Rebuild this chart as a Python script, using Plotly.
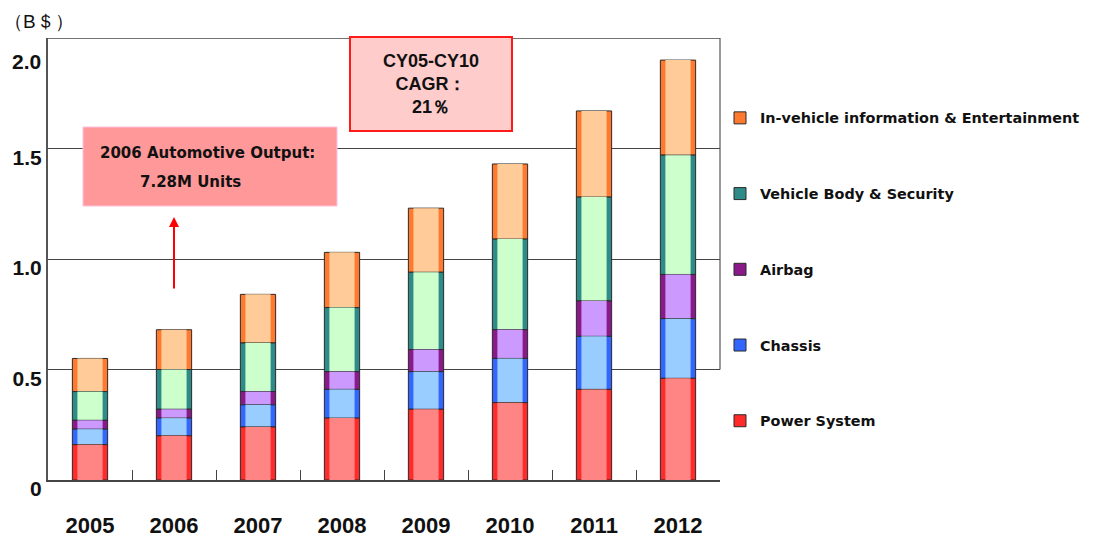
import numpy as np
import plotly.graph_objects as go

# Automotive electronics market, billions of USD
years = ["2005", "2006", "2007", "2008", "2009", "2010", "2011", "2012"]
power_system = [0.16, 0.20, 0.24, 0.28, 0.32, 0.35, 0.41, 0.46]
chassis = [0.07, 0.08, 0.10, 0.13, 0.17, 0.20, 0.24, 0.27]
airbag = [0.04, 0.04, 0.06, 0.08, 0.10, 0.13, 0.16, 0.20]
body_security = [0.13, 0.18, 0.22, 0.29, 0.35, 0.41, 0.47, 0.54]
infotainment = [0.15, 0.18, 0.22, 0.25, 0.29, 0.34, 0.39, 0.43]
totals = [0.55, 0.68, 0.84, 1.03, 1.23, 1.43, 1.67, 1.90]
y_ticks = [0, 0.5, 1.0, 1.5]
y_ticktext = ["0", "0.5", "1.0", "1.5"]
y_top = 2.0

ARIAL = "Arial, Liberation Sans, sans-serif"
TAHOMA = "DejaVu Sans, Verdana, sans-serif"

# bottom -> top of the stack: (name, values, edge colour, light colour)
series = [
    ("Power System", power_system, "#ff2a2a", "#ff8585"),
    ("Chassis", chassis, "#3366ff", "#99ccff"),
    ("Airbag", airbag, "#8a1a8a", "#cc99ff"),
    ("Vehicle Body & Security", body_security, "#2e8b87", "#ccffcc"),
    ("In-vehicle information & Entertainment", infotainment, "#ff7a2e", "#ffcc99"),
]

# explicit bases so that the "cylinder" layers can be overlaid
bases = {}
running = np.zeros(len(years))
for name, vals, _, _ in series:
    bases[name] = running.copy()
    running += np.array(vals)

fig = go.Figure()

# add in legend order (top item first)
for name, vals, edge, light in reversed(series):
    fig.add_trace(go.Bar(
        x=years, y=vals, base=bases[name], width=0.42,
        name=name, legendgroup=name,
        marker=dict(color=edge, line=dict(color="#2a2a2a", width=1)),
        hoverinfo="skip",
    ))
    fig.add_trace(go.Bar(
        x=years, y=vals, base=bases[name], width=0.30,
        name=name, legendgroup=name, showlegend=False,
        marker=dict(color=light, line=dict(width=0)),
        hoverinfo="skip",
    ))

# totals above each bar
for yr, tot in zip(years, totals):
    fig.add_annotation(
        x=yr, y=tot, text=f"{tot:.2f}", showarrow=False,
        yanchor="bottom", yshift=1,
        font=dict(family=ARIAL, size=19, color="#111", weight="bold"),
    )

# top tick label sits lower than its line in the original
fig.add_annotation(
    x=0, y=y_top, xref="paper", yref="y", xanchor="right", yanchor="middle",
    xshift=-5, yshift=-23, text=f"{y_top:.1f}", showarrow=False,
    font=dict(family=ARIAL, size=21, color="#111", weight="bold"),
)

# unit label
fig.add_annotation(
    x=-0.013, y=(480 - 22) / 442, xref="paper", yref="paper",
    xanchor="center", yanchor="middle",
    text="（B＄）", showarrow=False,
    font=dict(family=ARIAL, size=19, color="#111"),
)

# CAGR box
fig.add_annotation(
    x=(431 - 48) / 672, y=(480 - 84) / 442, xref="paper", yref="paper",
    xanchor="center", yanchor="middle",
    text="CY05-CY10<br>CAGR：<br>21％", showarrow=False,
    width=158, height=90, bgcolor="#ffcccc", bordercolor="#ff1a1a", borderwidth=2,
    font=dict(family=ARIAL, size=18, color="#111", weight="bold"),
)

# 2006 output box
fig.add_shape(
    type="rect", xref="paper", yref="paper",
    x0=(83 - 48) / 672, x1=(337 - 48) / 672,
    y0=(480 - 206) / 442, y1=(480 - 127) / 442,
    fillcolor="#ff9999", line=dict(color="#ffc0e0", width=1), layer="above",
)
fig.add_annotation(
    x=(98 - 48) / 672, y=(480 - 153) / 442, xref="paper", yref="paper",
    xanchor="left", yanchor="middle", text="2006 Automotive Output:", showarrow=False,
    font=dict(family=TAHOMA, size=15, color="#111", weight="bold"),
)
fig.add_annotation(
    x=(138 - 48) / 672, y=(480 - 182) / 442, xref="paper", yref="paper",
    xanchor="left", yanchor="middle", text="7.28M Units", showarrow=False,
    font=dict(family=TAHOMA, size=15, color="#111", weight="bold"),
)
# red arrow pointing at the box
i2006 = years.index("2006")
fig.add_annotation(
    x=i2006, y=1.19, ax=i2006, ay=0.86, axref="x", ayref="y",
    text="", showarrow=True, arrowhead=2, arrowsize=1, arrowwidth=2,
    arrowcolor="#ff0000",
)

# top frame line and the partial right frame seen in the original
fig.add_shape(
    type="line", xref="paper", yref="y", x0=0, x1=1, y0=y_top, y1=y_top,
    line=dict(color="#444", width=1.5),
)
fig.add_shape(
    type="line", xref="paper", yref="y", x0=1, x1=1, y0=0.5, y1=y_top,
    line=dict(color="#555", width=1.2),
)

fig.update_layout(
    width=1101, height=538,
    barmode="overlay",
    plot_bgcolor="white", paper_bgcolor="white",
    margin=dict(l=48, r=381, t=38, b=58),
    showlegend=True,
    legend=dict(
        x=(720 - 48) / 672, xanchor="left", y=(480 - 102) / 442, yanchor="top",
        traceorder="grouped", tracegroupgap=54,
        font=dict(family=TAHOMA, size=14.4, color="#111", weight="bold"),
        bgcolor="rgba(0,0,0,0)", borderwidth=0,
    ),
    xaxis=dict(
        type="category", range=[-0.5, 7.5], showgrid=False, automargin=False,
        showline=True, linecolor="#444", linewidth=2,
        ticks="inside", tickson="boundaries", ticklen=10, tickcolor="#444",
        ticklabelstandoff=25, tickangle=0,
        tickfont=dict(family=ARIAL, size=22, color="#111", weight="bold"),
    ),
    yaxis=dict(
        range=[0, y_top], automargin=False,
        tickvals=y_ticks, ticktext=y_ticktext,
        showgrid=True, gridcolor="#444", gridwidth=1.3,
        showline=True, linecolor="#555", linewidth=2,
        zeroline=False, ticks="",
        ticklabelshift=9,
        tickfont=dict(family=ARIAL, size=21, color="#111", weight="bold"),
    ),
)

# drop the page's default 8px body margin so the figure fills the window
fig.write_html(
    "out.html",
    config={"displayModeBar": False},
    post_script="document.body.style.margin='0px';",
)
